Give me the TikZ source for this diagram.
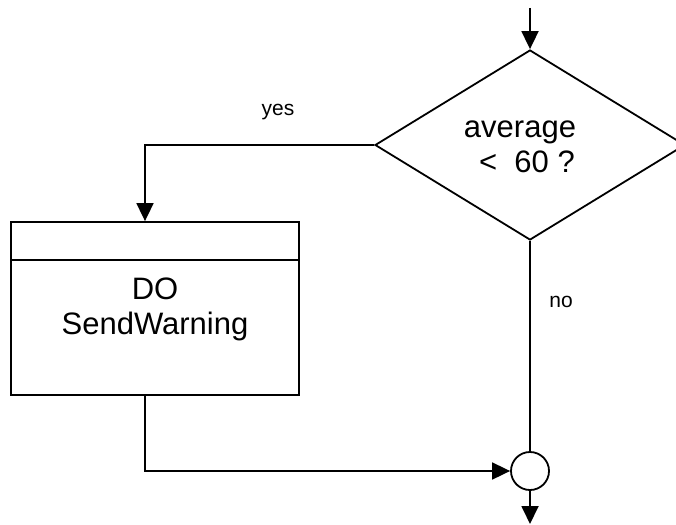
\documentclass[tikz,border=0pt]{standalone}
\usepackage{fontspec}
\setmainfont{Liberation Sans}
\usetikzlibrary{shapes.geometric,arrows.meta}
\tikzset{
  flow/.style={line width=1.8pt, draw=black},
  arrowed/.style={flow, -{Triangle[length=18pt,width=17pt]}},
  bigtext/.style={font=\fontsize{31}{35}\selectfont, align=center, inner sep=0pt},
  smalltext/.style={font=\fontsize{21}{25}\selectfont, inner sep=0pt},
  decision/.style={flow, shape=diamond, minimum width=310pt, minimum height=190pt, inner sep=0pt},
  process/.style={flow, rectangle, minimum width=288pt, minimum height=173pt, inner sep=0pt},
  junction/.style={flow, circle, minimum size=38pt, inner sep=0pt},
}
\begin{document}
\begin{tikzpicture}[x=1pt,y=-1pt]
  \useasboundingbox (0,0) rectangle (676,524);
  \clip (0,0) rectangle (676,524);

  % decision
  \node[decision] (test) at (530,145) {};
  \node[bigtext] (testtext) at (520,147) {average\\\hspace*{14pt}<\ \ 60 ?};

  % action block with empty header band
  \node[process] (act) at (155,308.5) {};
  \draw[flow] (act.west |- 0,260) coordinate (hdl) -- (act.east |- 0,260) coordinate (hdr);
  \node[bigtext] (acttext) at (155,309) {DO\\SendWarning};

  % merge point
  \node[junction] (merge) at (530,471) {};

  % entry and exit
  \coordinate (entry) at (530,8);
  \coordinate (exit) at (530,524);
  \draw[arrowed] (entry) -- (test.north);
  \draw[arrowed] (merge.south) -- (exit);

  % yes branch
  \coordinate (yesdrop) at (145,145);
  \draw[arrowed] (test.west) -- (yesdrop) -- (yesdrop |- act.north);
  \node[smalltext] (yes) at (278,112) {yes};

  % back from the action to the merge point
  \coordinate (actout) at (145,395);
  \draw[arrowed] (actout) -- (145,471) -- (merge.west);

  % no branch
  \draw[flow] (test.south) -- (merge.north);
  \node[smalltext] (no) at (561,302) {no};
\end{tikzpicture}
\end{document}
